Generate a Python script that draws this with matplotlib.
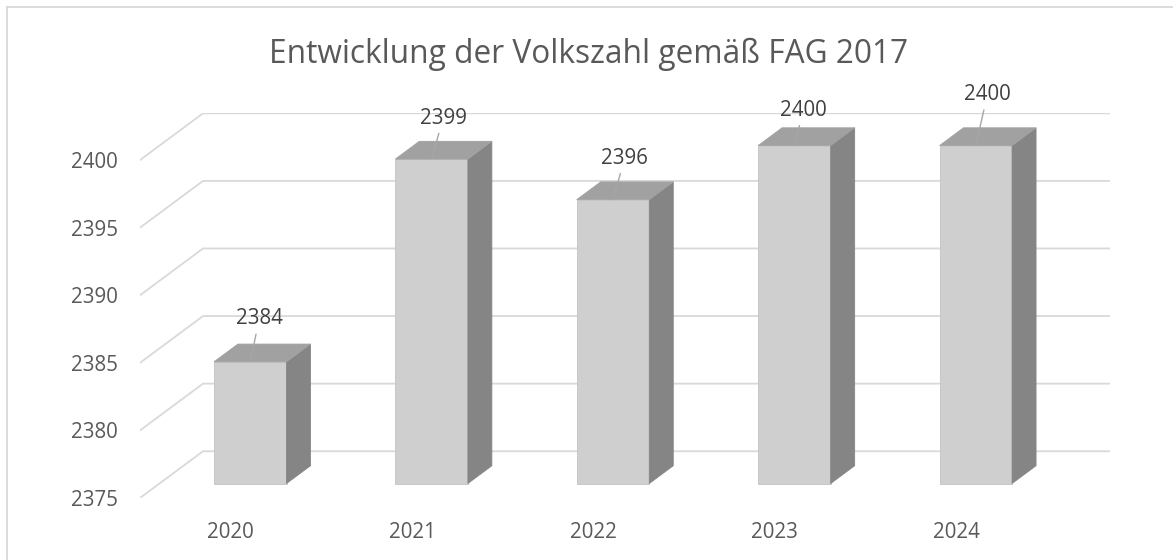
import matplotlib
matplotlib.use("Agg")
import matplotlib.pyplot as plt
from matplotlib.lines import Line2D

# Daten
jahre = ["2020", "2021", "2022", "2023", "2024"]
volkszahl = [2384, 2399, 2396, 2400, 2400]
y_ticks = [2375, 2380, 2385, 2390, 2395, 2400]
titel = "Entwicklung der Volkszahl gemäß FAG 2017"

# Versatz der Datenbeschriftungen (Pixel rechts, Pixel nach oben)
label_versatz = [(9, 43), (11.5, 41), (11.7, 41.4), (9, 35.4), (11.6, 51)]

# 3D-Geometrie (schräge Projektion, in Dateneinheiten)
Y0 = y_ticks[0]
DX, DY = 0.3475, 3.46      # Tiefe des Bodens
Z0, Z1 = 0.31, 0.69        # vordere / hintere Kante der Säulen
BW = 0.4                   # Säulenbreite

C_FRONT = '#d0cfd0'
C_SIDE = '#868586'
C_TOP = '#a1a1a1'
C_GRID = '#d9d9d9'
C_TEXT = '#595959'

plt.rcParams['font.family'] = ['Open Sans', 'DejaVu Sans']

W, H = 1173, 560
fig = plt.figure(figsize=(W / 100, H / 100), dpi=100)
ax = fig.add_axes([140 / W, 62 / H, 970 / W, (498 - 113.3) / H])
n = len(jahre)
ax.set_xlim(0, n + DX)
ax.set_ylim(Y0, y_ticks[-1] + DY)

# Gitterlinien: Seitenwand (schräg) + Rückwand
for v in y_ticks:
    ax.plot([0, DX, n + DX], [v, v + DY, v + DY], color=C_GRID, lw=1.3,
            solid_joinstyle='miter', zorder=1)

# Säulen
ddx = (Z1 - Z0) * DX
ddy = (Z1 - Z0) * DY
for i, v in enumerate(volkszahl):
    xl = i + 0.5 - BW / 2 + Z0 * DX
    xr = xl + BW
    yb = Y0 + Z0 * DY
    yt = v + Z0 * DY
    ax.fill([xl, xr, xr, xl], [yb, yb, yt, yt], color=C_FRONT, ec='#c4c3c4', lw=0.6, zorder=3)
    ax.fill([xr, xr + ddx, xr + ddx, xr], [yb, yb + ddy, yt + ddy, yt], color=C_SIDE,
            ec=C_SIDE, lw=0.6, zorder=3)
    ax.fill([xl, xr, xr + ddx, xl + ddx], [yt, yt, yt + ddy, yt + ddy], color=C_TOP,
            ec=C_TOP, lw=0.6, zorder=3)

    dx_px, dy_px = label_versatz[i]
    ax.annotate(str(v), xy=((xl + xr) / 2, yt), xytext=(dx_px * 0.72, dy_px * 0.72),
                textcoords='offset points', ha='center', va='center',
                fontsize=14.8, color='#404040', zorder=5,
                arrowprops=dict(arrowstyle='-', color='#a6a6a6', lw=1.0,
                                shrinkA=1.5, shrinkB=0))

ax.set_yticks(y_ticks)
ax.set_yticklabels([str(t) for t in y_ticks])
ax.set_xticks([i + 0.5 for i in range(n)])
ax.set_xticklabels(jahre)
ax.tick_params(axis='y', length=0, pad=15.8, labelsize=14.8, labelcolor=C_TEXT)
ax.tick_params(axis='x', length=0, pad=17, labelsize=14.8, labelcolor=C_TEXT)
for s in ax.spines.values():
    s.set_visible(False)
ax.patch.set_alpha(0)

fig.text(589 / W, 1 - 63 / H, titel, ha='center', va='baseline', fontsize=22.8, color=C_TEXT)

# Rahmen (nur oben und links sichtbar)
fig.add_artist(Line2D([7 / W, 1], [1 - 7 / H, 1 - 7 / H], color=C_GRID, lw=1.3,
                      transform=fig.transFigure))
fig.add_artist(Line2D([7 / W, 7 / W], [0, 1 - 7 / H], color=C_GRID, lw=1.3,
                      transform=fig.transFigure))

fig.savefig('out.png', dpi=100)
